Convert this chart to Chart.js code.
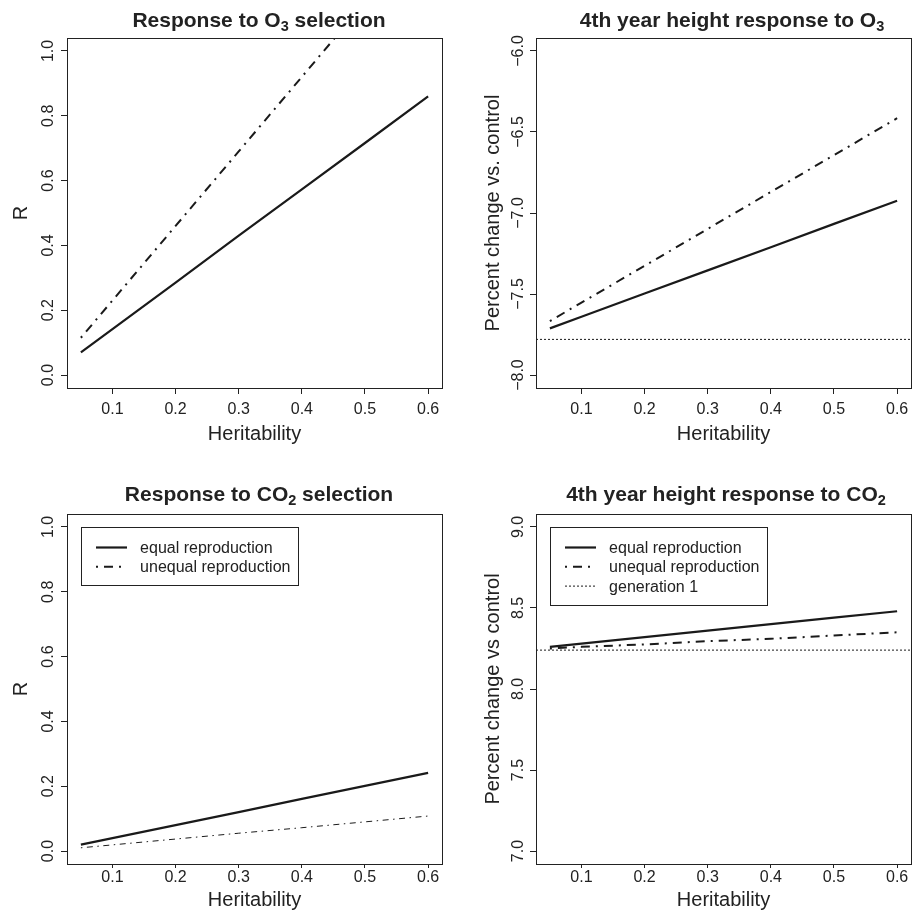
<!DOCTYPE html>
<html>
<head>
<meta charset="utf-8">
<script src="https://cdn.jsdelivr.net/npm/chart.js@4/dist/chart.umd.min.js"></script>
<style>
  html, body { margin: 0; padding: 0; background: #fff; }
  body { width: 923px; height: 914px; position: relative; overflow: hidden; }
  .panel { position: absolute; }
</style>
</head>
<body>
<div class="panel" style="left:0;top:0;width:461px;height:457px"><canvas id="ch-o3-resp"></canvas></div>
<div class="panel" style="left:461px;top:0;width:462px;height:457px"><canvas id="ch-o3-height"></canvas></div>
<div class="panel" style="left:0;top:457px;width:461px;height:457px"><canvas id="ch-co2-resp"></canvas></div>
<div class="panel" style="left:461px;top:457px;width:462px;height:457px"><canvas id="ch-co2-height"></canvas></div>
<script>
// values
const heritability = [0.05, 0.1, 0.2, 0.3, 0.4, 0.5, 0.6];

const o3RespEqual   = [0.07, 0.142, 0.285, 0.43, 0.573, 0.716, 0.86];
const o3RespUnequal = [0.115, 0.23, 0.46, 0.69, 0.92, 1.15, 1.38];

const o3HeightEqual   = [-7.712, -7.640, -7.497, -7.354, -7.211, -7.067, -6.924];
const o3HeightUnequal = [-7.667, -7.553, -7.326, -7.098, -6.870, -6.643, -6.415];
const o3HeightGen1 = -7.78;

const co2RespEqual   = [0.02, 0.04, 0.08, 0.12, 0.161, 0.201, 0.241];
const co2RespUnequal = [0.01, 0.019, 0.037, 0.055, 0.072, 0.09, 0.108];

const co2HeightEqual   = [8.26, 8.28, 8.32, 8.36, 8.40, 8.44, 8.48];
const co2HeightUnequal = [8.25, 8.26, 8.275, 8.295, 8.31, 8.33, 8.35];
const co2HeightGen1 = 8.24;

const xTicks = [0.1, 0.2, 0.3, 0.4, 0.5, 0.6];
const xRange = [0.028, 0.622];
const rTicks = [0, 0.2, 0.4, 0.6, 0.8, 1.0];
const rRange = [-0.04, 1.04];
const o3HeightTicks = [-8, -7.5, -7, -6.5, -6];
const o3HeightRange = [-8.08, -5.92];
const co2HeightTicks = [7, 7.5, 8, 8.5, 9];
const co2HeightRange = [6.92, 9.08];

const seriesNames = ["equal reproduction", "unequal reproduction", "generation 1"];

const titleO3Resp    = [["Response to O", false], ["3", true], [" selection", false]];
const titleO3Height  = [["4th year height response to O", false], ["3", true]];
const titleCo2Resp   = [["Response to CO", false], ["2", true], [" selection", false]];
const titleCo2Height = [["4th year height response to CO", false], ["2", true]];

const FONT = "'Liberation Sans', Arial, sans-serif";
const INK = "#222222";
const LINE = "#1a1a1a";
const DOTDASH = [2, 6, 9, 6];
const DOTDASH_THIN = [1.5, 4.5, 6, 4.5];
const DOTTED = [2, 2];

const pts = arr => heritability.map((h, i) => ({ x: h, y: arr[i] }));
const hline = v => [{ x: xRange[0], y: v }, { x: xRange[1], y: v }];
const fmt = v => v.toFixed(1).replace("-", "\u2212");

// R-ish frame, title with subscript, boxed legend
function basePlot(cfg) {
  return {
    id: "rbase",
    afterDatasetsDraw(chart) {
      const ctx = chart.ctx;
      const a = chart.chartArea;
      ctx.save();
      ctx.strokeStyle = INK;
      ctx.lineWidth = 1;
      ctx.strokeRect(Math.round(a.left) + 0.5, Math.round(a.top) + 0.5,
                     Math.round(a.right - a.left), Math.round(a.bottom - a.top));

      // title
      const big = "bold 21px " + FONT, small = "bold 14.5px " + FONT;
      let w = 0;
      cfg.title.forEach(([t, sub]) => { ctx.font = sub ? small : big; w += ctx.measureText(t).width; });
      let x = cfg.titleX - w / 2;
      ctx.fillStyle = INK;
      ctx.textBaseline = "alphabetic";
      ctx.textAlign = "left";
      cfg.title.forEach(([t, sub]) => {
        ctx.font = sub ? small : big;
        ctx.fillText(t, x, cfg.titleY + (sub ? 4 : 0));
        x += ctx.measureText(t).width;
      });

      // legend
      if (cfg.legend) {
        ctx.font = "16px " + FONT;
        const items = cfg.legend;
        const bx = Math.round(a.left + 14) + 0.5, by = Math.round(a.top + 12.5) + 0.5;
        const tw = Math.max(...items.map(it => ctx.measureText(it.label).width));
        const bw = Math.round(58.6 + tw + 8), bh = Math.round(20 + (items.length - 1) * 19.3 + 19);
        ctx.strokeRect(bx, by, bw, bh);
        items.forEach((it, i) => {
          const y = by + 20 + i * 19.3;
          ctx.beginPath();
          ctx.setLineDash(it.dash || []);
          ctx.lineWidth = it.width;
          ctx.strokeStyle = LINE;
          ctx.moveTo(bx + 14.5, y);
          ctx.lineTo(bx + 45.5, y);
          ctx.stroke();
          ctx.setLineDash([]);
          ctx.fillStyle = INK;
          ctx.textBaseline = "middle";
          ctx.fillText(it.label, bx + 58.6, y + 1);
        });
      }
      ctx.restore();
    }
  };
}

function makePanel(id, cfg) {
  const tickFont = { family: FONT, size: 16 };
  const titleFont = { family: FONT, size: 20 };
  return new Chart(document.getElementById(id), {
    type: "line",
    data: { datasets: cfg.datasets },
    options: {
      responsive: true,
      maintainAspectRatio: false,
      animation: false,
      parsing: false,
      layout: { padding: { top: cfg.padTop, right: cfg.padRight, left: 0, bottom: 0 } },
      elements: { point: { radius: 0 }, line: { tension: 0 } },
      plugins: { legend: { display: false }, title: { display: false }, tooltip: { enabled: false } },
      scales: {
        x: {
          type: "linear",
          min: xRange[0], max: xRange[1],
          afterBuildTicks: s => { s.ticks = xTicks.map(v => ({ value: v })); },
          afterFit: s => { s.height = cfg.xHeight; },
          border: { display: false },
          grid: { drawOnChartArea: false, drawTicks: true, tickLength: cfg.xTickLen, color: INK, lineWidth: 1 },
          ticks: { color: INK, font: tickFont, padding: cfg.xTickPad, maxRotation: 0, minRotation: 0, callback: v => fmt(v) },
          title: { display: true, text: "Heritability", color: INK, font: titleFont, padding: { top: 0, bottom: cfg.xTitlePad } }
        },
        y: {
          type: "linear",
          min: cfg.yRange[0], max: cfg.yRange[1],
          afterBuildTicks: s => { s.ticks = cfg.yTicks.map(v => ({ value: v })); },
          afterFit: s => { s.width = cfg.yWidth; },
          border: { display: false },
          grid: { drawOnChartArea: false, drawTicks: true, tickLength: 6, color: INK, lineWidth: 1 },
          ticks: { color: INK, font: tickFont, padding: cfg.yTickPad, minRotation: 90, maxRotation: 90, crossAlign: "center", callback: v => fmt(v) },
          title: { display: true, text: cfg.yTitle, color: INK, font: titleFont, padding: { top: cfg.yTitlePad, bottom: 0 } }
        }
      }
    },
    plugins: [basePlot(cfg)]
  });
}

const solid = (data, label) => ({ label, data: pts(data), borderColor: LINE, borderWidth: 2.2, clip: 0 });
const dotdash = (data, label, thin) => ({ label, data: pts(data), borderColor: LINE, borderWidth: thin ? 1 : 2,
                                         borderDash: thin ? DOTDASH_THIN : DOTDASH, clip: 0 });
const dotted = (v, label) => ({ label, data: hline(v), borderColor: LINE, borderWidth: 1, borderDash: DOTTED, clip: 0 });

// Panel 1: response to O3
makePanel("ch-o3-resp", {
  datasets: [solid(o3RespEqual, seriesNames[0]), dotdash(o3RespUnequal, seriesNames[1])],
  yTicks: rTicks, yRange: rRange, yTitle: "R",
  padTop: 38, padRight: 19, yWidth: 67, xHeight: 69,
  xTickLen: 6, xTickPad: 6, xTitlePad: 11, yTickPad: 1.5, yTitlePad: 9.5,
  title: titleO3Resp, titleX: 259, titleY: 26.5
});

// Panel 2: height response to O3
makePanel("ch-o3-height", {
  datasets: [solid(o3HeightEqual, seriesNames[0]), dotdash(o3HeightUnequal, seriesNames[1]), dotted(o3HeightGen1, seriesNames[2])],
  yTicks: o3HeightTicks, yRange: o3HeightRange, yTitle: "Percent change vs. control",
  padTop: 38, padRight: 12, yWidth: 75, xHeight: 69,
  xTickLen: 6, xTickPad: 6, xTitlePad: 11, yTickPad: -4.5, yTitlePad: 20,
  title: titleO3Height, titleX: 271, titleY: 26.5
});

// Panel 3: response to CO2
makePanel("ch-co2-resp", {
  datasets: [solid(co2RespEqual, seriesNames[0]), dotdash(co2RespUnequal, seriesNames[1], true)],
  yTicks: rTicks, yRange: rRange, yTitle: "R",
  padTop: 57, padRight: 19, yWidth: 67, xHeight: 50,
  xTickLen: 4, xTickPad: 0, xTitlePad: 1.5, yTickPad: 1.5, yTitlePad: 9.5,
  title: titleCo2Resp, titleX: 259, titleY: 44,
  legend: [{ label: seriesNames[0], width: 2.2 }, { label: seriesNames[1], width: 2, dash: DOTDASH }]
});

// Panel 4: height response to CO2
makePanel("ch-co2-height", {
  datasets: [solid(co2HeightEqual, seriesNames[0]), dotdash(co2HeightUnequal, seriesNames[1]), dotted(co2HeightGen1, seriesNames[2])],
  yTicks: co2HeightTicks, yRange: co2HeightRange, yTitle: "Percent change vs control",
  padTop: 57, padRight: 12, yWidth: 75, xHeight: 50,
  xTickLen: 4, xTickPad: 0, xTitlePad: 1.5, yTickPad: 0, yTitlePad: 20,
  title: titleCo2Height, titleX: 265, titleY: 44,
  legend: [{ label: seriesNames[0], width: 2.2 }, { label: seriesNames[1], width: 2, dash: DOTDASH },
           { label: seriesNames[2], width: 1, dash: DOTTED }]
});
</script>
</body>
</html>
